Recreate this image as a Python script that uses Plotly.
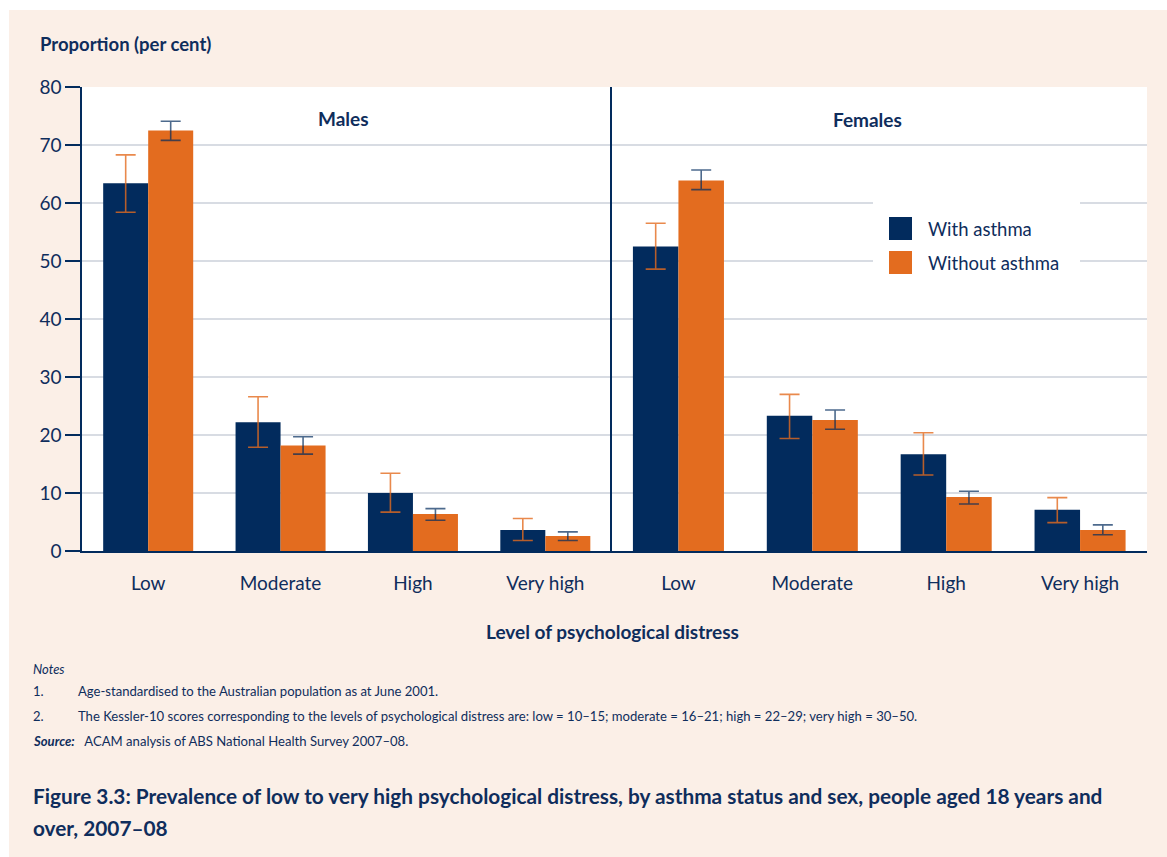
import plotly.graph_objects as go

categories = ["Low", "Moderate", "High", "Very high"]

males_with = [63.4, 22.2, 10.0, 3.6]
males_with_hi = [68.3, 26.6, 13.4, 5.6]
males_with_lo = [58.4, 17.9, 6.7, 1.8]
males_without = [72.5, 18.2, 6.4, 2.6]
males_without_hi = [74.1, 19.7, 7.3, 3.3]
males_without_lo = [70.8, 16.7, 5.3, 1.8]

females_with = [52.5, 23.3, 16.7, 7.1]
females_with_hi = [56.5, 27.0, 20.4, 9.2]
females_with_lo = [48.6, 19.4, 13.1, 4.9]
females_without = [63.9, 22.6, 9.3, 3.6]
females_without_hi = [65.7, 24.3, 10.3, 4.5]
females_without_lo = [62.3, 21.0, 8.1, 2.8]

yticks = [0, 10, 20, 30, 40, 50, 60, 70, 80]

NAVY = "#022B5D"
ORANGE = "#E36C1F"
TEXT = "#0F2D5C"
PEACH = "#FBEFE7"
GRID = "#D8DCE3"
FONT = "Lato, Liberation Sans, sans-serif"

W, H = 1167, 857
L, R, T, B = 82, 1147, 87, 551
pw, ph = R - L, B - T


def px(x):
    return (x - L) / pw


def py(y):
    return (B - y) / ph


def err(v, hi, lo):
    return [h - a for a, h in zip(v, hi)], [a - l for a, l in zip(v, lo)]


fig = go.Figure()

for xa, wv, whi, wlo, ov, ohi, olo in [
    ("x", males_with, males_with_hi, males_with_lo, males_without, males_without_hi, males_without_lo),
    ("x2", females_with, females_with_hi, females_with_lo, females_without, females_without_hi, females_without_lo),
]:
    p, m = err(wv, whi, wlo)
    fig.add_trace(go.Bar(
        x=categories, y=wv, xaxis=xa, yaxis="y" if xa == "x" else "y2",
        name="With asthma", marker=dict(color=NAVY, line=dict(width=0)),
        error_y=dict(type="data", symmetric=False, array=p, arrayminus=m,
                     color="rgba(227,108,31,0.8)", thickness=1.6, width=10),
        showlegend=False, offsetgroup="a",
    ))
    p, m = err(ov, ohi, olo)
    fig.add_trace(go.Bar(
        x=categories, y=ov, xaxis=xa, yaxis="y" if xa == "x" else "y2",
        name="Without asthma", marker=dict(color=ORANGE, line=dict(width=0)),
        error_y=dict(type="data", symmetric=False, array=p, arrayminus=m,
                     color="rgba(2,43,93,0.7)", thickness=1.6, width=10),
        showlegend=False, offsetgroup="b",
    ))

split = px(611.5)

xcommon = dict(type="category", range=[-0.5, 3.5], showgrid=False, ticks="",
               tickfont=dict(family=FONT, size=19, color=TEXT),
               showline=True, linecolor=NAVY, linewidth=2, zeroline=False,
               ticklabelstandoff=14)

fig.update_layout(
    width=W, height=H,
    margin=dict(l=L, r=W - R, t=T, b=H - B),
    paper_bgcolor="white",
    plot_bgcolor="white",
    barmode="group", bargap=0.32, bargroupgap=0,
    font=dict(family=FONT, color=TEXT),
    xaxis=dict(domain=[0, split], **xcommon),
    xaxis2=dict(domain=[split, 1], anchor="y2", **xcommon),
    yaxis=dict(range=[0, 80], tickvals=yticks, showgrid=True, gridcolor=GRID, gridwidth=2,
               ticks="outside", ticklen=15, tickcolor=NAVY, tickwidth=2,
               showline=True, linecolor=NAVY, linewidth=1.5, zeroline=False,
               tickfont=dict(family=FONT, size=19, color=TEXT)),
    yaxis2=dict(range=[0, 80], tickvals=yticks, showgrid=True, gridcolor=GRID, gridwidth=2,
                anchor="x2", matches="y", showticklabels=False, ticks="",
                showline=True, linecolor=NAVY, linewidth=1.5, zeroline=False),
    showlegend=False,
)

shapes = [
    # page background
    dict(type="rect", xref="paper", yref="paper", x0=px(9), x1=px(W + 5), y0=py(H + 5), y1=py(10),
         fillcolor=PEACH, line=dict(width=0), layer="below"),
    dict(type="rect", xref="paper", yref="paper", x0=0, x1=1, y0=0, y1=1,
         fillcolor="white", line=dict(width=0), layer="below"),
    # legend box
    dict(type="rect", xref="paper", yref="paper", x0=px(873), x1=px(1080), y0=py(276), y1=py(197),
         fillcolor="white", line=dict(width=0), layer="above"),
    dict(type="rect", xref="paper", yref="paper", x0=px(889), x1=px(912), y0=py(240), y1=py(217),
         fillcolor=NAVY, line=dict(width=0), layer="above"),
    dict(type="rect", xref="paper", yref="paper", x0=px(889), x1=px(912), y0=py(274), y1=py(251),
         fillcolor=ORANGE, line=dict(width=0), layer="above"),
]
fig.update_layout(shapes=shapes)

ann = []


def add(text, x, y, size, xanchor="left", bold=False, italic=False):
    t = text
    if bold:
        t = "<b>" + t + "</b>"
    if italic:
        t = "<i>" + t + "</i>"
    ann.append(dict(text=t, x=px(x), y=py(y), xref="paper", yref="paper", showarrow=False,
                    xanchor=xanchor, yanchor="middle", font=dict(family=FONT, size=size, color=TEXT)))


add("Proportion (per cent)", 38, 44, 18.5, bold=True)
add("Males", 343, 118, 19, xanchor="center", bold=True)
add("Females", 867, 120, 19, xanchor="center", bold=True)
add("With asthma", 926, 229, 18.5)
add("Without asthma", 926, 263, 18.5)
add("Level of psychological distress", 612, 631, 19, xanchor="center", bold=True)
add("Notes", 31, 669, 13, italic=True)
add("1.", 31, 691, 13)
add("Age-standardised to the Australian population as at June 2001.", 76, 691, 13.1)
add("2.", 31, 716, 13)
add("The Kessler-10 scores corresponding to the levels of psychological distress are: low = 10–15; "
    "moderate = 16–21; high = 22–29; very high = 30–50.", 76, 716, 13.1)
add("<b><i>Source:</i></b>   ACAM analysis of ABS National Health Survey 2007–08.", 31, 741, 13.1)
add("Figure 3.3: Prevalence of low to very high psychological distress, by asthma status and sex, "
    "people aged 18 years and", 31, 795, 20.8, bold=True)
add("over, 2007–08", 31, 827, 20.8, bold=True)

fig.update_layout(annotations=ann)

fig.write_html("out.html", config={"displayModeBar": False},
               post_script="document.body.style.margin='0';")
